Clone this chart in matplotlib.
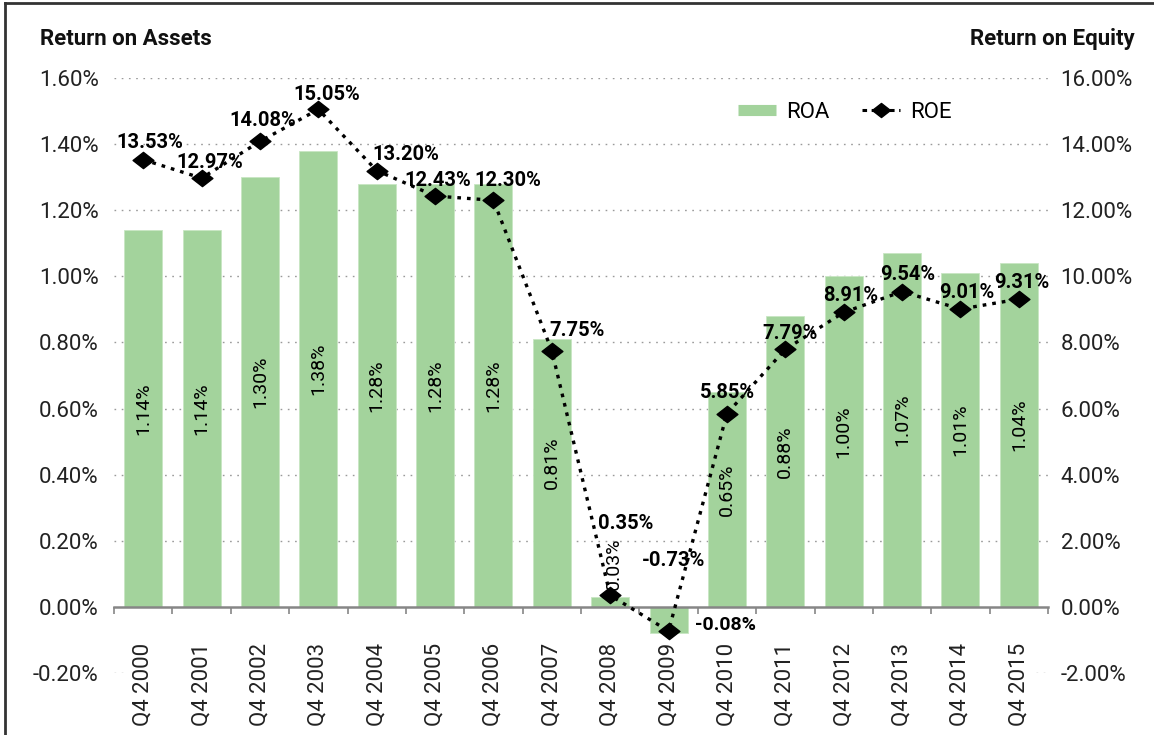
import numpy as np
import matplotlib
matplotlib.use("Agg")
import matplotlib.pyplot as plt
from matplotlib.lines import Line2D
from matplotlib.path import Path

plt.rcParams['font.family'] = ['Roboto', 'DejaVu Sans']

categories = ["Q4 2000", "Q4 2001", "Q4 2002", "Q4 2003", "Q4 2004", "Q4 2005",
              "Q4 2006", "Q4 2007", "Q4 2008", "Q4 2009", "Q4 2010", "Q4 2011",
              "Q4 2012", "Q4 2013", "Q4 2014", "Q4 2015"]
roa = [1.14, 1.14, 1.30, 1.38, 1.28, 1.28, 1.28, 0.81, 0.03, -0.08,
       0.65, 0.88, 1.00, 1.07, 1.01, 1.04]
roe = [13.53, 12.97, 14.08, 15.05, 13.20, 12.43, 12.30, 7.75, 0.35, -0.73,
       5.85, 7.79, 8.91, 9.54, 9.01, 9.31]
left_ticks = [-0.20, 0.00, 0.20, 0.40, 0.60, 0.80, 1.00, 1.20, 1.40, 1.60]
right_ticks = [-2, 0, 2, 4, 6, 8, 10, 12, 14, 16]

# label offsets for ROE labels (pixels: dx, dy upward)
roe_label_offsets = [(7, 17), (8, 16), (3, 21), (8, 15), (29, 16), (3, 16), (14, 20),
                     (25, 20), (15, 72), (5, 71), (1, 21), (5, 16), (7, 17), (6, 17),
                     (6, 17), (3, 17)]

GREEN = '#A3D39C'
W, H = 1154, 735
fig = plt.figure(figsize=(W / 100, H / 100), dpi=100)
ax = fig.add_axes([114 / W, 62 / H, (1048 - 114) / W, (673 - 78) / H])
x = np.arange(len(categories))

# spines first (set_position resets tick properties)
for s in ['top', 'left', 'right']:
    ax.spines[s].set_visible(False)
ax.spines['bottom'].set_position(('data', 0))
ax.spines['bottom'].set_color('#868686')
ax.spines['bottom'].set_linewidth(1.8)
ax.spines['bottom'].set_zorder(3)

ax.set_xlim(-0.5, len(categories) - 0.5)
ax.set_ylim(-0.20, 1.60)

# grid lines
for t in left_ticks:
    if t > 0:
        ax.axhline(t, color='#9a9a9a', lw=1.0, ls=(0, (1.2, 4)), zorder=0)
ax.hlines(-0.20, -0.5, -0.3, color='#9a9a9a', lw=1.0, ls=(0, (1.2, 4)), zorder=0)
ax.hlines(-0.20, 15.3, 15.5, color='#9a9a9a', lw=1.0, ls=(0, (1.2, 4)), zorder=0)

ax.bar(x, roa, width=0.65, color=GREEN, edgecolor='#c8e6c3', linewidth=0.6, zorder=2)

# bar labels
for xi, v in zip(x, roa):
    txt = f"{v:.2f}%"
    if v < 0:
        ax.annotate(txt, (xi + 0.33, v), xytext=(5, 6), textcoords='offset points',
                    ha='left', va='center', fontsize=14, fontweight='bold', zorder=5)
    elif v < 0.1:
        ax.annotate(txt, (xi, v), xytext=(3, 5), textcoords='offset points',
                    ha='center', va='bottom', rotation=90, fontsize=14, zorder=5)
    else:
        ax.text(xi, v / 2 + 0.03, txt, rotation=90, ha='center', va='center',
                fontsize=14, zorder=5)

ax.set_yticks(left_ticks)
ax.set_yticklabels([f"{t:.2f}%" for t in left_ticks], fontsize=16, color='#222222')
ax.tick_params(axis='y', length=0, pad=11)

ax.set_xticks(x)
ax.set_xticks(np.arange(len(categories) + 1) - 0.5, minor=True)
ax.set_xticklabels(categories, rotation=90, fontsize=16, color='#222222')
ax.tick_params(axis='x', which='major', length=0, pad=26)
ax.tick_params(axis='x', which='minor', length=5, width=1.2, color='#868686', direction='out')

# ROE on right axis
ax2 = ax.twinx()
ax2.set_ylim(-2, 16)
diamond = Path([(-1, 0), (0, 0.78), (1, 0), (0, -0.78), (-1, 0)],
               [Path.MOVETO, Path.LINETO, Path.LINETO, Path.LINETO, Path.CLOSEPOLY])
ax2.plot(x, roe, color='black', lw=2.4, ls=(0, (1.1, 1.8)), marker=diamond,
         markersize=15, markerfacecolor='black', markeredgecolor='black', zorder=4)
for xi, v, (dx, dy) in zip(x, roe, roe_label_offsets):
    ax2.annotate(f"{v:.2f}%", (xi, v), xytext=(dx * 0.72, dy * 0.72),
                 textcoords='offset points', ha='center', va='center',
                 fontsize=14.5, fontweight='bold', color='black', zorder=6)
ax2.set_yticks(right_ticks)
ax2.set_yticklabels([f"{t:.2f}%" for t in right_ticks], fontsize=16, color='#222222')
ax2.tick_params(axis='y', length=0, pad=9)
for s in ax2.spines.values():
    s.set_visible(False)

# titles
fig.text(40 / W, 1 - 45 / H, "Return on Assets", fontsize=16, fontweight='bold',
         ha='left', va='baseline', color='#111111')
fig.text(1135 / W, 1 - 45 / H, "Return on Equity", fontsize=16, fontweight='bold',
         ha='right', va='baseline', color='#111111')

# legend
h_roa = Line2D([], [], color=GREEN, lw=8, solid_capstyle='butt')
h_roe = Line2D([], [], color='black', lw=2.2, ls=(0, (1.5, 1.5)), marker=diamond,
               markersize=13, markerfacecolor='black')
fig.legend([h_roa, h_roe], ["ROA", "ROE"], loc='center left',
           bbox_to_anchor=(738 / W, 1 - 112 / H), ncol=2, frameon=False,
           fontsize=16, handlelength=1.7, handletextpad=0.45, columnspacing=1.5,
           borderaxespad=0, borderpad=0)

# frame
fig.add_artist(Line2D([5 / W, 1], [1 - 3 / H, 1 - 3 / H], transform=fig.transFigure,
                      color='#333333', lw=2))
fig.add_artist(Line2D([5 / W, 5 / W], [0, 1 - 3 / H], transform=fig.transFigure,
                      color='#333333', lw=2))

# adjust category label distance so label tops sit ~36px below the zero line
fig.canvas.draw()
renderer = fig.canvas.get_renderer()
zero_px = ax.transData.transform((0, 0))[1]
bb = ax.get_xticklabels()[0].get_window_extent(renderer)
gap = zero_px - bb.y1
pad_now = 26
new_pad = pad_now + (36 - gap) * 72 / fig.dpi
ax.tick_params(axis='x', which='major', pad=new_pad)

fig.savefig("out.png", dpi=100)
